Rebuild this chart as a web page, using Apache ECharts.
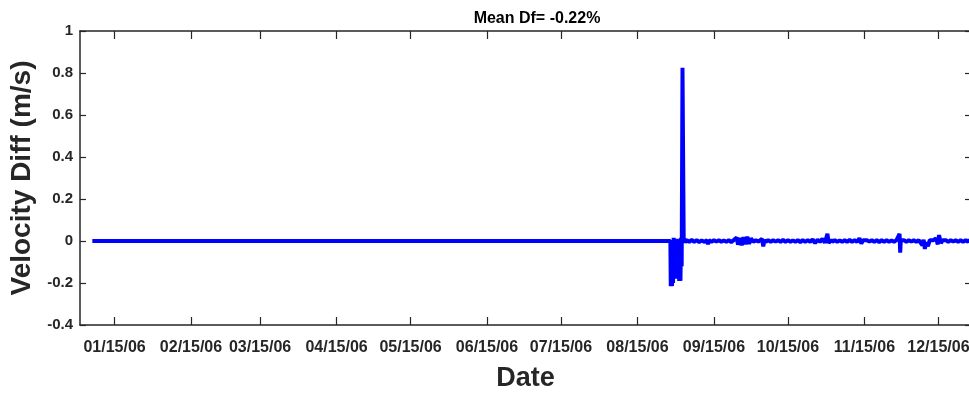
<!DOCTYPE html>
<html>
<head>
<meta charset="utf-8">
<script src="https://cdn.jsdelivr.net/npm/echarts@6/dist/echarts.min.js"></script>
<style>
  html, body { margin: 0; padding: 0; background: #fff; }
  #chart { width: 969px; height: 393px; }
</style>
</head>
<body>
<div id="chart"></div>
<script>
// tick dates and their labels (15th of each month)
const tickDates = ['2006-01-15', '2006-02-15', '2006-03-15', '2006-04-15', '2006-05-15', '2006-06-15',
  '2006-07-15', '2006-08-15', '2006-09-15', '2006-10-15', '2006-11-15', '2006-12-15'];
const tickLabels = ['01/15/06', '02/15/06', '03/15/06', '04/15/06', '05/15/06', '06/15/06',
  '07/15/06', '08/15/06', '09/15/06', '10/15/06', '11/15/06', '12/15/06'];

// quiet period, velocity diff is flat
const flatSeg = [
  ['2006-01-06 00:00', 0],
  ['2006-08-28 08:00', 0]
];

// late august event
const eventSeg = [
  ['2006-08-28 12:00', -0.215], ['2006-08-28 18:00', -0.03], ['2006-08-29 00:00', -0.215],
  ['2006-08-29 06:00', -0.05], ['2006-08-29 10:00', -0.2], ['2006-08-29 16:00', 0.015],
  ['2006-08-29 22:00', -0.13], ['2006-08-30 04:00', -0.02], ['2006-08-30 10:00', -0.18],
  ['2006-08-30 16:00', 0.01], ['2006-08-30 22:00', -0.18], ['2006-08-31 04:00', -0.03],
  ['2006-08-31 10:00', -0.14], ['2006-08-31 16:00', 0.01], ['2006-08-31 22:00', -0.19],
  ['2006-09-01 04:00', -0.02], ['2006-09-01 10:00', -0.19], ['2006-09-01 16:00', 0.015],
  ['2006-09-01 22:00', -0.12], ['2006-09-02 06:00', 0.825], ['2006-09-02 12:00', 0.825],
  ['2006-09-02 18:00', -0.01], ['2006-09-03 00:00', 0.012]
];

// autumn, small noise with a few bursts
const tailSeg = [
  ['2006-09-03 08:00', -0.006], ['2006-09-04', 0.004], ['2006-09-05', -0.004], ['2006-09-06', 0.005],
  ['2006-09-07', -0.004], ['2006-09-08', 0.004], ['2006-09-09', -0.005], ['2006-09-10', 0.003],
  ['2006-09-11', -0.004], ['2006-09-12 06:00', 0.003], ['2006-09-12 14:00', -0.016], ['2006-09-13', 0.004],
  ['2006-09-14', -0.004], ['2006-09-15', 0.004], ['2006-09-16', -0.003], ['2006-09-17', 0.004],
  ['2006-09-18', -0.004], ['2006-09-19', 0.003], ['2006-09-20', -0.004], ['2006-09-21', 0.004],
  ['2006-09-22', -0.005], ['2006-09-23', 0.004],
  ['2006-09-24 06:00', 0.016], ['2006-09-24 18:00', -0.018], ['2006-09-25 12:00', 0.014],
  ['2006-09-26 06:00', -0.02], ['2006-09-27', 0.018], ['2006-09-27 18:00', -0.016],
  ['2006-09-28 12:00', 0.02], ['2006-09-29 06:00', -0.014], ['2006-09-30', 0.012],
  ['2006-10-01', -0.004], ['2006-10-02', 0.004], ['2006-10-03', -0.003], ['2006-10-04 12:00', 0.01],
  ['2006-10-05', -0.026], ['2006-10-05 12:00', 0.006], ['2006-10-06', -0.004], ['2006-10-07', 0.004],
  ['2006-10-08', -0.004], ['2006-10-09', 0.004], ['2006-10-10', -0.003], ['2006-10-11', 0.004],
  ['2006-10-12', -0.004], ['2006-10-13', 0.005], ['2006-10-14', -0.004], ['2006-10-15', 0.004],
  ['2006-10-16', -0.004], ['2006-10-17', 0.003], ['2006-10-18', -0.004], ['2006-10-19', 0.004],
  ['2006-10-20', -0.005], ['2006-10-21', 0.004], ['2006-10-22', -0.004], ['2006-10-23', 0.004],
  ['2006-10-24', -0.004], ['2006-10-25', 0.008], ['2006-10-26', -0.01], ['2006-10-27', 0.006],
  ['2006-10-28', -0.004], ['2006-10-29', 0.01], ['2006-10-30', -0.008], ['2006-10-31', 0.034],
  ['2006-10-31 12:00', -0.01], ['2006-11-01 12:00', 0.006], ['2006-11-02', -0.004], ['2006-11-03', 0.004],
  ['2006-11-04', -0.004], ['2006-11-05', 0.003], ['2006-11-06', -0.004], ['2006-11-07', 0.004],
  ['2006-11-08', -0.004], ['2006-11-09', 0.005], ['2006-11-10', -0.004], ['2006-11-11', 0.004],
  ['2006-11-12', -0.004], ['2006-11-13', 0.013], ['2006-11-13 18:00', -0.012], ['2006-11-14 12:00', 0.004],
  ['2006-11-15', -0.004], ['2006-11-16', 0.004], ['2006-11-17', -0.003], ['2006-11-18', 0.004],
  ['2006-11-19', -0.004], ['2006-11-20', 0.004], ['2006-11-21', -0.005], ['2006-11-22', 0.004],
  ['2006-11-23', -0.004], ['2006-11-24', 0.004], ['2006-11-25', -0.004], ['2006-11-26', 0.003],
  ['2006-11-27', -0.004], ['2006-11-28', 0.004],
  ['2006-11-29 06:00', 0.034], ['2006-11-29 12:00', -0.056], ['2006-11-29 18:00', 0.004],
  ['2006-11-30', -0.004], ['2006-12-01', 0.004], ['2006-12-02', -0.004], ['2006-12-03', 0.004],
  ['2006-12-04', -0.003], ['2006-12-05', 0.004], ['2006-12-06', -0.004], ['2006-12-07', 0.004],
  ['2006-12-08 12:00', -0.02], ['2006-12-09', 0.006], ['2006-12-09 12:00', -0.038], ['2006-12-10', -0.006],
  ['2006-12-10 18:00', -0.024], ['2006-12-11 12:00', 0.004], ['2006-12-12', -0.004], ['2006-12-13', 0.004],
  ['2006-12-14', 0.012], ['2006-12-14 18:00', -0.016], ['2006-12-15 06:00', 0.028], ['2006-12-16', -0.01],
  ['2006-12-16 18:00', 0.004], ['2006-12-17', -0.004], ['2006-12-18', 0.004], ['2006-12-19', -0.004],
  ['2006-12-20', 0.004], ['2006-12-21', -0.003], ['2006-12-22', 0.004], ['2006-12-23', -0.004],
  ['2006-12-24', 0.004], ['2006-12-25', -0.004], ['2006-12-26', 0.004], ['2006-12-27', -0.004],
  ['2006-12-27 12:00', 0.006], ['2006-12-28', -0.004]
];

const xMin = '2006-01-01 00:00';
const xMax = '2006-12-28 05:00';

// dates -> ms timestamps (UTC, so no DST shifts)
const toTime = s => {
  const full = s.length > 10 ? s : s + ' 00:00';
  return Date.parse(full.replace(' ', 'T') + ':00Z');
};
const tickTimes = tickDates.map(toTime);
const labelOf = {};
tickTimes.forEach((t, i) => { labelOf[t] = tickLabels[i]; });

const seriesData = flatSeg.concat(eventSeg, tailSeg).map(p => [toTime(p[0]), p[1]]);

const axisColor = '#262626';
const font = 'Liberation Sans, Arial, sans-serif';

const chart = echarts.init(document.getElementById('chart'));
chart.setOption({
  animation: false,
  backgroundColor: '#fff',
  title: {
    text: 'Mean Df= -0.22%',
    left: 532, top: 6, textAlign: 'center',
    textStyle: { fontFamily: font, fontSize: 16, fontWeight: 'bold', color: '#000' }
  },
  grid: { left: 80, right: -2, top: 31, bottom: 68, outerBoundsMode: 'none', containLabel: false },
  xAxis: [{
    type: 'value',
    min: toTime(xMin), max: toTime(xMax),
    name: 'Date', nameLocation: 'middle', nameGap: 40,
    nameTextStyle: { fontFamily: font, fontSize: 27, fontWeight: 'bold', color: axisColor },
    axisLine: { onZero: false, lineStyle: { color: axisColor, width: 1.5 } },
    axisTick: { inside: true, length: 8, customValues: tickTimes, lineStyle: { color: axisColor, width: 1.2 } },
    axisLabel: {
      customValues: tickTimes, margin: 15,
      fontFamily: font, fontSize: 16, fontWeight: 'bold', color: axisColor,
      formatter: v => labelOf[v] || ''
    },
    splitLine: { show: false }
  }, {
    type: 'value', position: 'top',
    min: toTime(xMin), max: toTime(xMax),
    axisLine: { onZero: false, lineStyle: { color: axisColor, width: 1.5 } },
    axisTick: { inside: true, length: 8, customValues: tickTimes, lineStyle: { color: axisColor, width: 1.2 } },
    axisLabel: { show: false },
    splitLine: { show: false }
  }],
  yAxis: [{
    type: 'value',
    min: -0.4, max: 1, interval: 0.2,
    name: 'Velocity Diff (m/s)', nameLocation: 'middle', nameGap: 42,
    nameTextStyle: { fontFamily: font, fontSize: 28, fontWeight: 'bold', color: axisColor },
    axisLine: { show: true, onZero: false, lineStyle: { color: axisColor, width: 1.5 } },
    axisTick: { show: true, inside: true, length: 6, lineStyle: { color: axisColor, width: 1.2 } },
    axisLabel: {
      margin: 7, fontFamily: font, fontSize: 15, fontWeight: 'bold', color: axisColor,
      formatter: v => String(Math.round(v * 10) / 10)
    },
    splitLine: { show: false }
  }, {
    type: 'value', position: 'right',
    min: -0.4, max: 1, interval: 0.2,
    axisLine: { show: true, onZero: false, lineStyle: { color: axisColor, width: 1.5 } },
    axisTick: { show: true, inside: true, length: 6, lineStyle: { color: axisColor, width: 1.2 } },
    axisLabel: { show: false },
    splitLine: { show: false }
  }],
  series: [{
    type: 'line',
    xAxisIndex: 0, yAxisIndex: 0,
    data: seriesData,
    showSymbol: false,
    lineStyle: { color: '#0000ff', width: 4 },
    itemStyle: { color: '#0000ff' }
  }]
});
</script>
</body>
</html>
